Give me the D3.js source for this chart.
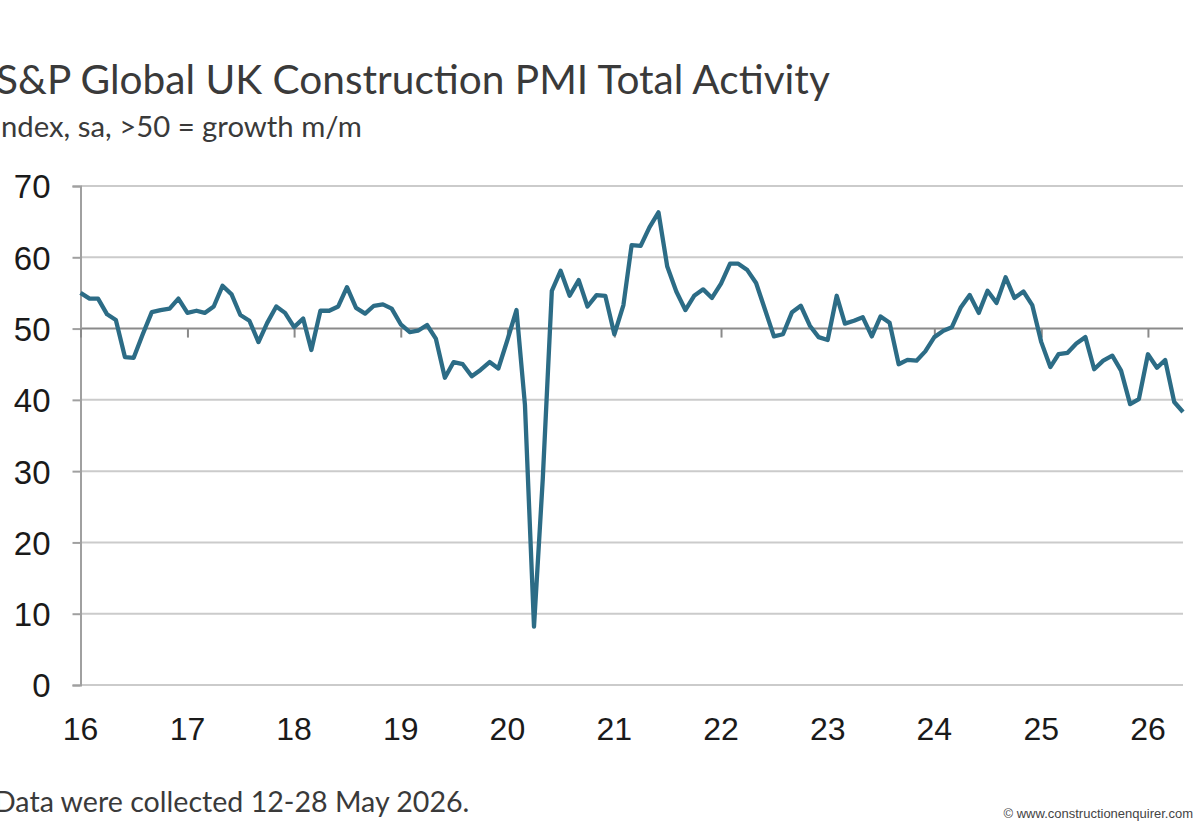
<!DOCTYPE html>
<html>
<head>
<meta charset="utf-8">
<script src="https://cdn.jsdelivr.net/npm/d3@7"></script>
<style>
  body { margin: 0; background: #fff; overflow: hidden; }
  svg { display: block; }
  .axis-label { font-family: "Liberation Sans", Arial, sans-serif; fill: #1a1a1a; }
</style>
</head>
<body>
<svg id="chart" width="1200" height="828"></svg>
<script>
/******** Data ********/
var startYear = 2016;
var yearLabels = ["16", "17", "18", "19", "20", "21", "22", "23", "24", "25", "26"];
var yTicks = [0, 10, 20, 30, 40, 50, 60, 70];
// monthly PMI readings, Jan 2016 .. May 2026
var pmi2016 = [55.0, 54.2, 54.2, 52.0, 51.2, 46.0, 45.9, 49.2, 52.3, 52.6, 52.8, 54.2];
var pmi2017 = [52.2, 52.5, 52.2, 53.1, 56.0, 54.8, 51.9, 51.1, 48.1, 50.8, 53.1, 52.2];
var pmi2018 = [50.2, 51.4, 47.0, 52.5, 52.5, 53.1, 55.8, 52.9, 52.1, 53.2, 53.4, 52.8];
var pmi2019 = [50.6, 49.5, 49.7, 50.5, 48.6, 43.1, 45.3, 45.0, 43.3, 44.2, 45.3, 44.4];
var pmi2020 = [48.4, 52.6, 39.3, 8.2, 28.9, 55.3, 58.1, 54.6, 56.8, 53.1, 54.7, 54.6];
var pmi2021 = [49.2, 53.3, 61.7, 61.6, 64.2, 66.3, 58.7, 55.2, 52.6, 54.6, 55.5, 54.3];
var pmi2022 = [56.3, 59.1, 59.1, 58.2, 56.4, 52.6, 48.9, 49.2, 52.3, 53.2, 50.4, 48.8];
var pmi2023 = [48.4, 54.6, 50.7, 51.1, 51.6, 48.9, 51.7, 50.8, 45.0, 45.6, 45.5, 46.8];
var pmi2024 = [48.8, 49.7, 50.2, 53.0, 54.7, 52.2, 55.3, 53.6, 57.2, 54.3, 55.2, 53.3];
var pmi2025 = [48.1, 44.6, 46.4, 46.6, 47.9, 48.8, 44.3, 45.5, 46.2, 44.1, 39.4, 40.1];
var pmi2026 = [46.4, 44.5, 45.6, 39.7, 38.3];

var allYears = [pmi2016, pmi2017, pmi2018, pmi2019, pmi2020, pmi2021,
                pmi2022, pmi2023, pmi2024, pmi2025, pmi2026];

var series = [];
allYears.forEach(function (vals, yi) {
  vals.forEach(function (v, m) {
    series.push({ date: new Date(startYear + yi, m, 1), value: v });
  });
});

/******** Layout ********/
var svg = d3.select("#chart");
var plotLeft = 80.5, plotRight = 1183, plotTop = 186, plotBottom = 685;

var x = d3.scaleTime()
  .domain([new Date(2016, 0, 1), new Date(2026, 4, 1)])
  .range([plotLeft, plotRight]);

var y = d3.scaleLinear()
  .domain([0, 70])
  .range([plotBottom, plotTop]);

/******** Titles ********/
svg.append("text")
  .attr("x", -4).attr("y", 94)
  .style("font-family", "Lato, 'Open Sans', sans-serif")
  .style("font-size", "40.6px")
  .style("fill", "#3a3a3a")
  .text("S&P Global UK Construction PMI Total Activity");

svg.append("text")
  .attr("x", -7).attr("y", 137)
  .style("font-family", "Lato, 'Open Sans', sans-serif")
  .style("font-size", "29.3px")
  .style("fill", "#3a3a3a")
  .text("Index, sa, >50 = growth m/m");

/******** Gridlines ********/
svg.append("g")
  .selectAll("line")
  .data(yTicks)
  .enter().append("line")
  .attr("x1", plotLeft).attr("x2", plotRight)
  .attr("y1", d => y(d)).attr("y2", d => y(d))
  .attr("stroke", d => d === 50 ? "#8a8a8a" : "#cbcbcb")
  .attr("stroke-width", 2);

/******** Y axis ********/
var yAxis = d3.axisLeft(y)
  .tickValues(yTicks)
  .tickSize(8)
  .tickPadding(22);

var yAxisGroup = svg.append("g")
  .attr("transform", "translate(" + plotLeft + ",0)")
  .call(yAxis);

yAxisGroup.select(".domain").attr("stroke", "#a0a0a0").attr("stroke-width", 2);
yAxisGroup.selectAll(".tick line").attr("stroke", "#a0a0a0").attr("stroke-width", 2);
yAxisGroup.selectAll("text")
  .attr("class", "axis-label")
  .style("font-size", "33px")
  .attr("dy", "0.36em");

/******** X axis (ticks hang from the 50 line) ********/
var yearDates = yearLabels.map((d, i) => new Date(startYear + i, 0, 1));

var xAxis = d3.axisBottom(x)
  .tickValues(yearDates)
  .tickSize(9)
  .tickFormat("");

var xAxisGroup = svg.append("g")
  .attr("transform", "translate(0," + y(50) + ")")
  .call(xAxis);
xAxisGroup.select(".domain").remove();
xAxisGroup.selectAll(".tick line").attr("stroke", "#8a8a8a").attr("stroke-width", 2);

svg.append("g")
  .selectAll("text")
  .data(yearDates)
  .enter().append("text")
  .attr("class", "axis-label")
  .attr("x", d => x(d))
  .attr("y", 740)
  .attr("text-anchor", "middle")
  .style("font-size", "32px")
  .text((d, i) => yearLabels[i]);

/******** Line ********/
var line = d3.line()
  .x(d => x(d.date))
  .y(d => y(d.value));

svg.append("path")
  .datum(series)
  .attr("fill", "none")
  .attr("stroke", "#2c6c86")
  .attr("stroke-width", 4.3)
  .attr("stroke-linejoin", "round")
  .attr("d", line);

/******** Footer ********/
svg.append("text")
  .attr("x", -6).attr("y", 812)
  .style("font-family", "Lato, 'Open Sans', sans-serif")
  .style("font-size", "28.6px")
  .style("fill", "#3a3a3a")
  .text("Data were collected 12-28 May 2026.");

svg.append("text")
  .attr("x", 1193).attr("y", 818)
  .attr("text-anchor", "end")
  .style("font-family", "'Liberation Sans Narrow', 'Liberation Sans', sans-serif")
  .style("font-size", "13px")
  .style("fill", "#444")
  .text("© www.constructionenquirer.com");
</script>
</body>
</html>
